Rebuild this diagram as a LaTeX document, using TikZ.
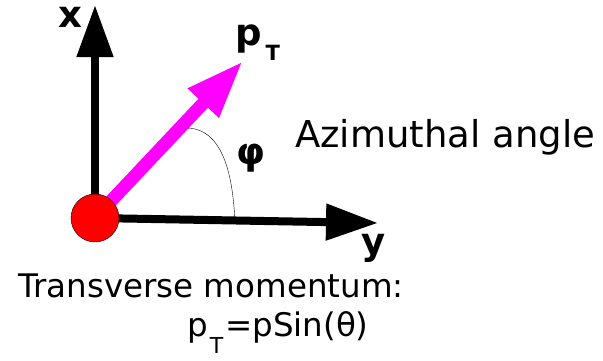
\documentclass[tikz,border=0pt]{standalone}
\usepackage{fontspec}
\setmainfont{DejaVu Sans}
\usetikzlibrary{arrows.meta}
\definecolor{ptcol}{RGB}{255,0,255}

\begin{document}
\begin{tikzpicture}[
x=1pt, y=-1pt,
axis/.style={line width=8pt, -{Triangle[length=52pt, width=35pt]}},
mom/.style={line width=13pt, ptcol, -{Triangle[length=58pt, width=39pt]}},
vertex/.style={circle, draw, fill=red, thin, inner sep=0pt, minimum size=48pt},
bold/.style={font=\fontsize{37}{44}\selectfont\bfseries, inner sep=0pt, anchor=base},
txt/.style={font=\fontsize{32.5}{40}\selectfont, inner sep=0pt, anchor=base west}
]
\useasboundingbox (0,0) rectangle (603,360);
\coordinate (o) at (95,218);
\coordinate (xtip) at (95,5);
\coordinate (ytip) at (378,223);
\coordinate (ptip) at (243,61);
\coordinate (arcA) at (188,128);
\coordinate (arcB) at (235,222);
% axes and momentum vector
\draw[axis] (o) -- (xtip);
\draw[axis] (o) -- (ytip);
\draw[mom] (o) -- (ptip);
\draw[thin] (arcA) .. controls (225,130) and (233,180) .. (arcB);
\node[vertex] (vtx) at (o) {};
% labels
\node[bold] (xlab) at (70.5,27) {x};
\node[bold] (ylab) at (373.5,254) {y};
\node[bold, anchor=base west] (ptlab) at (235,45) {p\hspace{4pt}\raisebox{-15pt}{\fontsize{21}{24}\selectfont T}};
\node[bold, anchor=center] (philab) at (251,158) {φ};
\node[txt, font=\fontsize{37}{44}\selectfont] (azim) at (295,147) {Azimuthal angle};
\node[txt] (trans) at (18,297) {Transverse momentum:};
\node[txt] (formula) at (187,336) {p\hspace{2pt}\raisebox{-17pt}{\fontsize{22}{26}\selectfont T}\hspace{2pt}=pSin(θ)};
\end{tikzpicture}
\end{document}
